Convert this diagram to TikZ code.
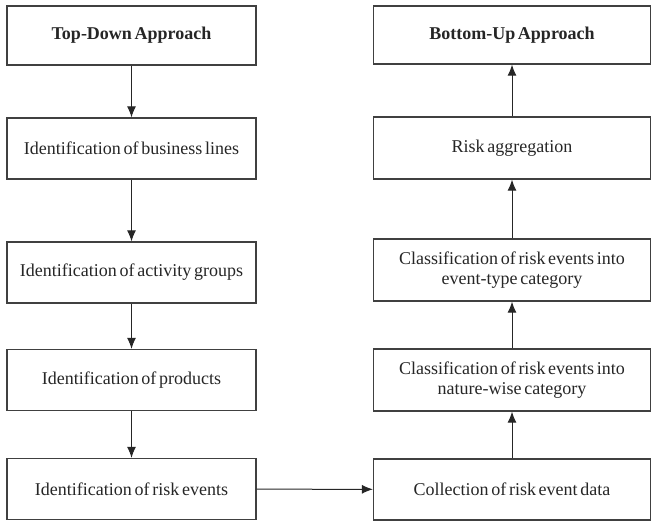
\documentclass[tikz,border=0pt]{standalone}
\usepackage{fontspec}
\setmainfont{Liberation Serif}
\usetikzlibrary{positioning}
\usetikzlibrary{arrows.meta}
\newcommand{\boxfont}{\fontsize{18}{20}\selectfont}
\tikzset{c-box/.style={rectangle, minimum height=61pt, align=flush center, inner sep=0pt, draw=black!75, line width=1.3pt, fill=white, text=black!85, font=\boxfont, execute at begin node={\spaceskip=0.15em plus 0.05em\relax}},
c-left/.style={c-box, minimum width=249pt, text width=240pt},
c-right/.style={c-box, minimum width=277pt, text width=268pt},
arrow/.style={line width=1pt, black!85, -{Latex[length=11pt,width=9pt]}}}

\begin{document}
\begin{tikzpicture}[x=1pt, y=-1pt]
\useasboundingbox (0,0) rectangle (652,520);
% top-down column
\node (t0) [c-left, minimum height=59pt] at (131.5,35.5) {\textbf{Top-Down Approach}};
\node (t1) [c-left] at (131.5,148.5) {Identification of business lines};
\node (t2) [c-left] at (131.5,272.5) {Identification of activity groups};
\node (t3) [c-left] at (131.5,380) {Identification of products};
\node (t4) [c-left] at (131.5,489) {Identification of risk events};
% bottom-up column
\node (b0) [c-right, minimum height=58pt] at (512,35) {\textbf{Bottom-Up Approach}};
\node (b1) [c-right, minimum height=62pt] at (512,148) {Risk aggregation};
\node (b2) [c-right, minimum height=62pt] at (512,270) {Classification of risk events into\\event-type category};
\node (b3) [c-right, minimum height=62pt] at (512,380) {Classification of risk events into\\nature-wise category};
\node (b4) [c-right] at (512,489.5) {Collection of risk event data};
\draw [arrow] (t0) -- (t1);
\draw [arrow] (t1) -- (t2);
\draw [arrow] (t2) -- (t3);
\draw [arrow] (t3) -- (t4);
\draw [arrow] (t4) -- (b4);
\draw [arrow] (b4) -- (b3);
\draw [arrow] (b3) -- (b2);
\draw [arrow] (b2) -- (b1);
\draw [arrow] (b1) -- (b0);
\end{tikzpicture}
\end{document}
